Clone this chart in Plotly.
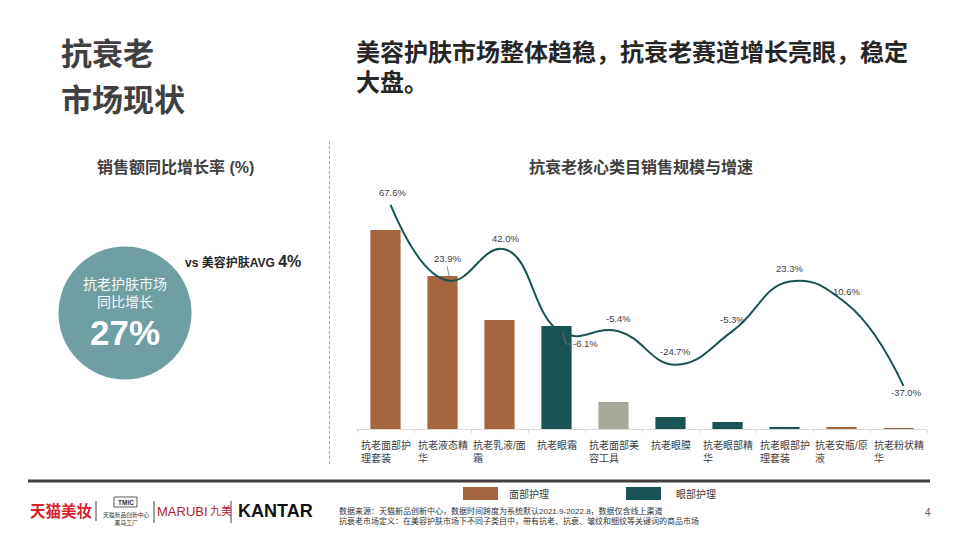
import plotly.graph_objects as go

CJK = "Liberation Sans, Noto Sans CJK SC"
LATIN = "Liberation Sans"
BROWN = "#A5653F"
TEAL = "#1A5354"
STONE = "#A9A99B"
DARK = "#404040"

categories = ["抗老面部护<br>理套装", "抗老液态精<br>华", "抗老乳液/面<br>霜", "抗老眼霜", "抗老面部美<br>容工具",
              "抗老眼膜", "抗老眼部精<br>华", "抗老眼部护<br>理套装", "抗老安瓶/原<br>液", "抗老粉状精<br>华"]
# bar heights are relative, the chart has no value axis
sales = [199, 153, 109, 103, 27, 12, 7, 2, 2, 0.6]
bar_colors = [BROWN, BROWN, BROWN, TEAL, STONE, TEAL, TEAL, TEAL, BROWN, BROWN]
growth = [67.6, 23.9, 42.0, -6.1, -5.4, -24.7, -5.3, 23.3, 10.6, -37.0]
growth_labels = ["67.6%", "23.9%", "42.0%", "-6.1%", "-5.4%", "-24.7%", "-5.3%", "23.3%", "10.6%", "-37.0%"]
# label offsets from each line point
label_dx = [2, 0, 1, 24, 0, 0, 0, 0, 0, 3]
label_dy = [12, 22, 11, -11, 13, 13, 12, 13, 12, -7]

W, H = 960, 540
PAGE_MARGIN = 8  # the browser's body margin pushes the figure right and down
LINE_SHIFT = 5 / 57  # the line runs about 5px right of the bars, in category units


def px(x):
    return (x - PAGE_MARGIN) / W


def py(y):
    return 1 - (y - PAGE_MARGIN) / H


def text(x, y, s, size, color=DARK, bold=False, font=CJK, anchor="left"):
    if bold:
        s = "<b>" + s + "</b>"
    return dict(x=px(x), y=py(y), xref="paper", yref="paper", text=s, showarrow=False, xanchor=anchor,
                yanchor="middle", align=anchor, font=dict(family=font, size=size, color=color))


def vline(x0, y0, x1, y1, color="#555555", width=1, dash="solid"):
    return dict(type="line", xref="paper", yref="paper", x0=px(x0), y0=py(y0), x1=px(x1), y1=py(y1),
                line=dict(color=color, width=width, dash=dash))


def box(x0, y0, x1, y1, color):
    return dict(type="rect", xref="paper", yref="paper", x0=px(x0), y0=py(y0), x1=px(x1), y1=py(y1),
                fillcolor=color, line=dict(width=0))


fig = go.Figure()
fig.add_trace(go.Bar(x=categories, y=sales, marker=dict(color=bar_colors, line=dict(width=0)), width=0.53,
                     xaxis="x", yaxis="y", showlegend=False))
fig.add_trace(go.Scatter(x=categories, y=growth, mode="lines", xaxis="x2", yaxis="y2", showlegend=False,
                         line=dict(color=TEAL, width=2, shape="spline", smoothing=1.3)))

notes = [
    text(59, 55, "抗衰老", 31, bold=True),
    text(59, 100, "市场现状", 31, bold=True),
    text(354, 52, "美容护肤市场整体趋稳，抗衰老赛道增长亮眼，稳定", 24, "#262626", True),
    text(354, 82, "大盘。", 24, "#262626", True),
    text(175, 167, "销售额同比增长率 (%)", 16, bold=True, anchor="center"),
    text(641, 167, "抗衰老核心类目销售规模与增速", 16, bold=True, anchor="center"),
    text(125, 293, "抗老护肤市场<br>同比增长", 14, "#F4F8F8", anchor="center"),
    text(125, 332, "27%", 35, "#FFFFFF", True, LATIN, "center"),
    text(183, 262, "vs 美容护肤AVG <span style='font-size:16px'>4%</span>", 12, "#262626", True),
    # footer
    text(507, 494, "面部护理", 10),
    text(674, 494, "眼部护理", 10),
    text(337, 516, "数据来源：天猫新品创新中心，数据时间跨度为系统默认2021.9-2022.8，数据仅含线上渠道<br>"
                   "抗衰老市场定义：在美容护肤市场下不同子类目中，带有抗老、抗衰、皱纹和细纹等关键词的商品市场", 8, "#333333"),
    text(928, 512, "4", 10, "#555555", font=LATIN, anchor="center"),
    # logos
    text(28, 511, "天猫美妆", 15.5, "#D8232A", True),
    text(125.5, 502, "TMIC", 6.5, "#333333", True, LATIN, "center"),
    text(126, 519, "天猫新品创新中心<br>黑马工厂", 5.8, "#333333", anchor="center"),
    text(155, 511, "MARUBI", 13, "#B5202A", font=LATIN),
    text(208, 511, "九美", 11, "#B5202A"),
    text(236, 511, "KANTAR", 18, "#111111", True, LATIN),
]

for cat in categories:
    notes.append(dict(x=cat, y=py(437), xref="x", yref="paper", text=cat, showarrow=False, xanchor="center",
                      yanchor="top", align="left", font=dict(family=CJK, size=10, color=DARK)))

for cat, g, lab, dx, dy in zip(categories, growth, growth_labels, label_dx, label_dy):
    notes.append(dict(x=cat, y=g, xref="x2", yref="y2", text=lab, showarrow=False, xshift=dx, yshift=dy,
                      font=dict(family=LATIN, size=9.5, color=DARK)))

shapes = [
    vline(329.5, 141, 329.5, 466, "#A6A6A6", 1, "3px,2px"),
    dict(type="circle", xref="paper", yref="paper", x0=px(58.5), y0=py(246.5), x1=px(191.5), y1=py(379.5),
         fillcolor="#6F9FA3", line=dict(width=0)),
    vline(28, 481, 930, 481, "#404040", 3),
    box(463, 487, 498, 500, BROWN),
    box(626, 487, 661, 500, TEAL),
    vline(96, 501, 96, 521, "#444444"),
    vline(154, 501, 154, 523, "#444444"),
    vline(231, 501, 231, 523, "#444444"),
    dict(type="rect", xref="paper", yref="paper", x0=px(114), y0=py(497), x1=px(137), y1=py(507),
         line=dict(color="#333333", width=0.8)),
    # leader lines
    vline(447, 266, 450, 280, "#777777", 0.8),
    vline(563, 333, 566, 344, "#777777", 0.8),
    vline(566, 344, 572, 344, "#777777", 0.8),
]

fig.update_layout(
    width=W, height=H, margin=dict(l=0, r=0, t=0, b=0), plot_bgcolor="white", paper_bgcolor="white",
    showlegend=False, annotations=notes, shapes=shapes,
    xaxis=dict(domain=[px(357), px(927)], type="category", range=[-0.5, 9.5], showticklabels=False, showgrid=False,
               zeroline=False, showline=True, linecolor="#D9D9D9", linewidth=1, ticks="outside", ticklen=3,
               tickcolor="#D9D9D9", tickson="boundaries"),
    yaxis=dict(domain=[py(429), py(170)], range=[0, 259], visible=False),
    xaxis2=dict(type="category", range=[-0.5 - LINE_SHIFT, 9.5 - LINE_SHIFT], overlaying="x", visible=False),
    yaxis2=dict(range=[-61.9, 87.8], overlaying="y", visible=False),
)

fig.write_html("out.html")
